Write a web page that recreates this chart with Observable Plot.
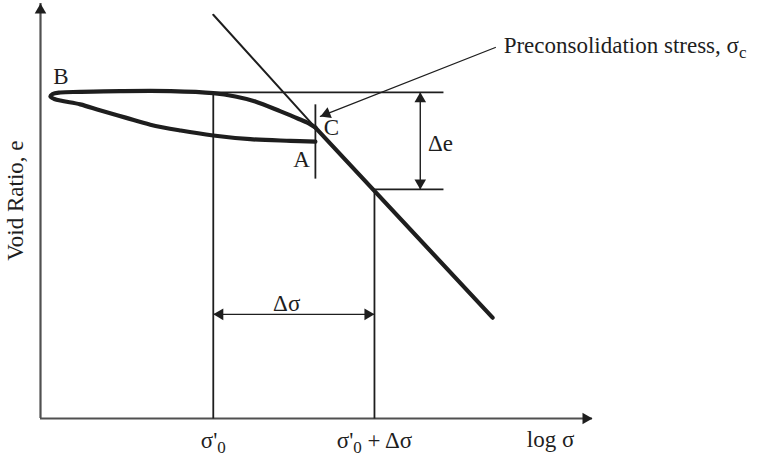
<!DOCTYPE html>
<html><head><meta charset="utf-8">
<script src="https://cdn.jsdelivr.net/npm/d3@7"></script>
<script src="https://cdn.jsdelivr.net/npm/@observablehq/plot@0.6"></script>
<style>body{margin:0;background:#fff} svg text{white-space:pre}</style>
</head><body><div id="chart"></div>
<script>
// ---- data (schematic units: x = log σ, e = void ratio) ----
const loopX = [4.98, 4.53, 3.80, 3.13, 2.54, 1.99, 1.54, 1.09, 0.72, 0.40, 0.25, 0.18, 0.22, 0.36, 0.72, 1.45, 2.36, 3.13, 3.53, 3.89, 4.35, 4.66, 4.86, 4.98];
const loopE = [6.67, 6.69, 6.73, 6.82, 6.94, 7.08, 7.25, 7.42, 7.57, 7.65, 7.70, 7.76, 7.82, 7.855, 7.87, 7.89, 7.89, 7.84, 7.76, 7.64, 7.40, 7.23, 7.11, 7.01];
const tangentX = [3.13, 4.98];
const tangentE = [9.73, 7.01];
const virginX = [4.98, 8.19];
const virginE = [7.01, 2.43];
const sigma0 = 3.13, sigma1 = 6.05;
const eTop = 7.86, eBottom = 5.52;
const boxRight = 7.30;
const cX = 4.98, cTickE = [5.78, 7.57];
const deltaEX = 6.88, deltaSigmaE = 2.51;
const leaderX = [8.24, 5.07], leaderE = [8.94, 7.28];
const xTicks = [sigma0, sigma1];
const xTickLabels = ["σ'_0", "σ'_0 + Δσ"];
const pointText = ["B", "C", "A", "Δσ"];
const pointX = [0.37, 5.27, 4.73, 4.46];
const pointE = [8.25, 7.00, 6.25, 2.78];
const deltaEText = "Δe";
const deltaELabelX = 7.02, deltaELabelE = 6.62;
const noteText = "Preconsolidation stress, σ_c";
const noteX = 8.39, noteE = 8.99;
const yTitle = "Void Ratio, e", xTitle = "log σ";

// ---- layout ----
const W = 759, H = 457, ML = 40, MR = 167, MT = 3, MB = 39;
const xDomain = [0, 10], yDomain = [0, 10];
const kx = (W - ML - MR) / (xDomain[1] - xDomain[0]);
const ky = (H - MT - MB) / (yDomain[1] - yDomain[0]);
const ink = "#1e1e1e", axisInk = "#505050";
const R = 4.3, FS = 23;

function head(tx, te, angle) {
  const a = angle * Math.PI / 180, off = 1.555 * R;
  return {x: tx - off * Math.sin(a) / kx, e: te - off * Math.cos(a) / ky, rotate: angle};
}
const leaderAngle = Math.atan2((leaderX[1] - leaderX[0]) * kx, (leaderE[1] - leaderE[0]) * ky) * 180 / Math.PI;
const heads = [
  head(0, yDomain[1], 0),
  head(xDomain[1], 0, 90),
  head(deltaEX, eTop, 0),
  head(deltaEX, eBottom, 180),
  head(sigma0, deltaSigmaE, 270),
  head(sigma1, deltaSigmaE, 90),
  head(leaderX[1], leaderE[1], leaderAngle)
];

const frame = [
  {x1: sigma0, e1: 0, x2: sigma0, e2: eTop},
  {x1: sigma1, e1: 0, x2: sigma1, e2: eBottom},
  {x1: sigma0, e1: eTop, x2: boxRight, e2: eTop},
  {x1: sigma1, e1: eBottom, x2: boxRight, e2: eBottom},
  {x1: cX, e1: cTickE[0], x2: cX, e2: cTickE[1]}
];
const dims = [
  {x1: deltaEX, e1: eTop, x2: deltaEX, e2: eBottom},
  {x1: sigma0, e1: deltaSigmaE, x2: sigma1, e2: deltaSigmaE}
];

const chart = Plot.plot({
  width: W, height: H, marginLeft: ML, marginRight: MR, marginTop: MT, marginBottom: MB,
  x: {domain: xDomain},
  y: {domain: yDomain, axis: null},
  style: {fontFamily: "'Liberation Serif', 'DejaVu Serif', serif", fontSize: FS + "px", color: ink, background: "#fff"},
  marks: [
    Plot.axisX({ticks: xTicks, tickFormat: d => xTickLabels[xTicks.indexOf(d)], tickSize: 0, tickPadding: 13, fontSize: FS, label: null}),
    Plot.ruleX([0], {y1: 0, y2: yDomain[1], stroke: axisInk, strokeWidth: 2.2}),
    Plot.ruleY([0], {x1: 0, x2: xDomain[1], stroke: axisInk, strokeWidth: 2.2}),
    Plot.link(frame, {x1: "x1", y1: "e1", x2: "x2", y2: "e2", stroke: ink, strokeWidth: 1.8}),
    Plot.link(dims, {x1: "x1", y1: "e1", x2: "x2", y2: "e2", stroke: ink, strokeWidth: 1.4}),
    Plot.line(tangentX, {x: d => d, y: (d, i) => tangentE[i], stroke: ink, strokeWidth: 2}),
    Plot.line(leaderX, {x: d => d, y: (d, i) => leaderE[i], stroke: ink, strokeWidth: 1.3}),
    Plot.line(loopX, {x: d => d, y: (d, i) => loopE[i], curve: "catmull-rom", stroke: ink, strokeWidth: 4.2, strokeLinecap: "round"}),
    Plot.line(virginX, {x: d => d, y: (d, i) => virginE[i], stroke: ink, strokeWidth: 4.2, strokeLinecap: "round"}),
    Plot.dot(heads, {x: "x", y: "e", rotate: "rotate", symbol: "triangle", r: R, fill: ink, stroke: null}),
    Plot.text(pointText, {x: (d, i) => pointX[i], y: (d, i) => pointE[i], text: d => d, fontSize: FS, fill: ink}),
    Plot.text([deltaEText], {x: [deltaELabelX], y: [deltaELabelE], text: d => d, textAnchor: "start", fontSize: FS, fill: ink}),
    Plot.text([noteText], {x: [noteX], y: [noteE], text: d => d, textAnchor: "start", fontSize: FS, fill: ink}),
    Plot.text([yTitle], {x: [-0.45], y: [5.25], text: d => d, rotate: -90, fontSize: FS, fill: ink}),
    Plot.text([xTitle], {x: [9.24], y: [-0.51], text: d => d, fontSize: FS, fill: ink})
  ]
});

// render "_x" as a subscript
const NS = "http://www.w3.org/2000/svg";
chart.querySelectorAll("text").forEach(t => {
  const s = t.textContent;
  if (!s.includes("_")) return;
  const parts = s.split(/_(\w)/);
  t.textContent = "";
  let shifted = false;
  parts.forEach((p, i) => {
    if (!p) return;
    const ts = document.createElementNS(NS, "tspan");
    if (i % 2 === 1) { ts.setAttribute("dy", "5"); ts.setAttribute("font-size", "17"); shifted = true; }
    else if (shifted) { ts.setAttribute("dy", "-5"); shifted = false; }
    ts.textContent = p;
    t.appendChild(ts);
  });
});
document.getElementById("chart").appendChild(chart);
</script>
</body></html>
